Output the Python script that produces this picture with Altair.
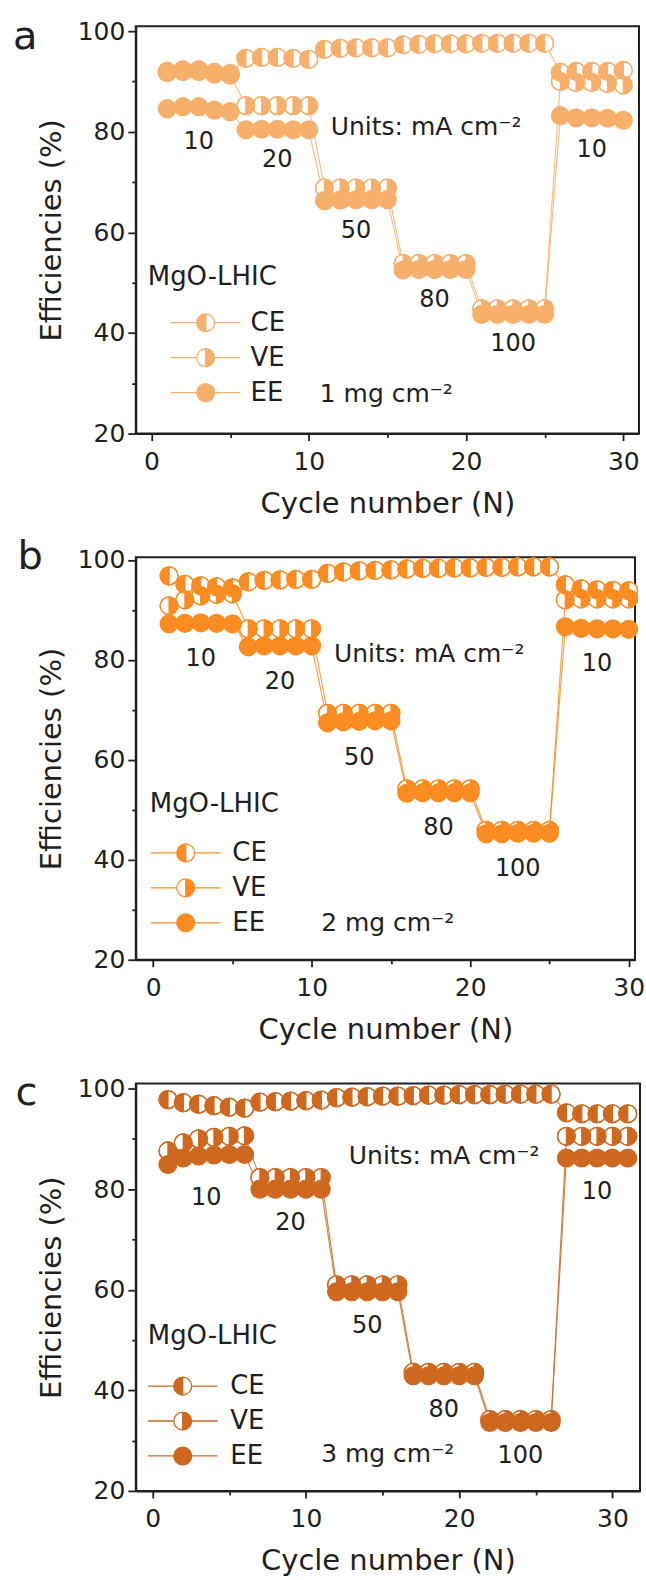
import altair as alt
import pandas as pd

FONT = "DejaVu Sans"
INK = "#231f20"

SERIES = ["CE", "VE", "EE"]
STEP_CURRENTS = [10, 20, 50, 80, 100, 10]  # mA cm-2, one entry per rate step

# (a) 1 mg cm-2
CYCLES_PER_STEP_A = [5, 5, 5, 5, 5, 5]
CE_A = [92.0, 92.3, 92.3, 91.8, 91.6, 94.6, 94.8, 94.8, 94.6, 94.4,
        96.4, 96.6, 96.7, 96.7, 96.7, 97.3, 97.4, 97.5, 97.5, 97.5,
        97.6, 97.6, 97.6, 97.6, 97.6, 91.8, 92.0, 92.0, 92.0, 92.2]
VE_A = [91.8, 92.0, 92.0, 91.5, 91.3, 85.2, 85.2, 85.2, 85.2, 85.2,
        68.8, 68.8, 68.8, 68.8, 68.8, 53.8, 53.8, 53.8, 53.8, 53.8,
        44.8, 44.8, 44.8, 44.8, 44.8, 90.0, 89.8, 89.8, 89.6, 89.3]
EE_A = [84.6, 85.0, 85.0, 84.3, 84.0, 80.4, 80.5, 80.5, 80.4, 80.4,
        66.3, 66.4, 66.5, 66.5, 66.5, 52.5, 52.6, 52.6, 52.6, 52.6,
        43.7, 43.7, 43.7, 43.7, 43.7, 83.2, 82.8, 82.8, 82.7, 82.3]

# (b) 2 mg cm-2
CYCLES_PER_STEP_B = [5, 5, 5, 5, 5, 5]
CE_B = [96.8, 95.1, 94.8, 94.6, 94.4, 95.6, 95.9, 96.0, 96.1, 96.1,
        97.3, 97.6, 97.8, 97.9, 98.0, 98.2, 98.3, 98.3, 98.4, 98.4,
        98.5, 98.5, 98.6, 98.6, 98.6, 95.0, 94.2, 94.0, 93.9, 93.8]
VE_B = [90.8, 92.0, 92.8, 93.1, 93.2, 86.2, 86.2, 86.2, 86.2, 86.2,
        69.3, 69.3, 69.3, 69.3, 69.3, 54.2, 54.2, 54.2, 54.2, 54.2,
        45.9, 45.9, 45.9, 45.9, 45.9, 92.0, 92.2, 92.2, 92.2, 92.2]
EE_B = [87.2, 87.3, 87.4, 87.3, 87.2, 82.6, 82.8, 82.8, 82.8, 82.8,
        67.4, 67.6, 67.7, 67.8, 67.8, 53.3, 53.4, 53.4, 53.4, 53.4,
        45.2, 45.2, 45.3, 45.3, 45.3, 86.6, 86.3, 86.2, 86.2, 86.1]

# (c) 3 mg cm-2
CYCLES_PER_STEP_C = [6, 5, 5, 5, 5, 5]
CE_C = [97.8, 97.2, 96.9, 96.6, 96.3, 96.1, 97.3, 97.4, 97.5, 97.6, 97.7,
        98.2, 98.3, 98.4, 98.5, 98.5, 98.6, 98.7, 98.7, 98.8, 98.8,
        98.8, 98.9, 98.9, 98.9, 98.9, 95.2, 95.0, 95.0, 95.0, 95.0]
VE_C = [87.6, 89.2, 90.0, 90.3, 90.5, 90.6, 82.3, 82.3, 82.3, 82.3, 82.3,
        61.0, 61.0, 61.0, 61.0, 61.0, 43.6, 43.6, 43.6, 43.6, 43.6,
        34.2, 34.2, 34.2, 34.2, 34.2, 90.5, 90.5, 90.5, 90.5, 90.5]
EE_C = [84.9, 86.2, 86.6, 86.8, 86.9, 86.9, 80.0, 80.0, 80.0, 80.0, 80.0,
        59.6, 59.6, 59.6, 59.6, 59.6, 42.9, 42.9, 42.9, 42.9, 42.9,
        33.6, 33.6, 33.6, 33.6, 33.6, 86.2, 86.2, 86.2, 86.2, 86.2]

COLOR_A = "#F7B06C"
COLOR_B = "#FA8C22"
COLOR_C = "#CF681F"

SIZE = 320  # marker area, px^2

# Unit-circle symbol paths; a reversed half-disc leaves that half unfilled
CIRCLE = "M0,-1A1,1,0,1,1,0,1A1,1,0,1,1,0,-1Z"
RIGHT_CUT = "M0,-1L0,1A1,1,0,0,0,0,-1Z"
LEFT_CUT = "M0,1L0,-1A1,1,0,0,0,0,1Z"
STUBS = "M-3.9,0L-1,0M1,0L3.9,0"
MARKER_PATHS = [CIRCLE + RIGHT_CUT, CIRCLE + LEFT_CUT, CIRCLE]
LEGEND_PATHS = [p + STUBS for p in MARKER_PATHS]


def build_frame(steps, ce, ve, ee):
    rows = []
    cycle = 1
    for k, (n, cur) in enumerate(zip(steps, STEP_CURRENTS)):
        for _ in range(n):
            for s, vals in zip(SERIES, (ce, ve, ee)):
                rows.append({"cycle": cycle, "value": vals[cycle - 1],
                             "series": s, "step": k, "current": str(cur)})
            cycle += 1
    return pd.DataFrame(rows)


def panel(df, color, xdom, ydom, width, height, lay):
    x = alt.X("cycle:Q",
              scale=alt.Scale(domain=xdom, nice=False, zero=False),
              axis=alt.Axis(title="Cycle number (N)", grid=False, labelFlush=False,
                            values=list(range(0, 31, 5)),
                            labelExpr="datum.value % 10 === 0 ? datum.label : ''",
                            tickSize={"condition": {"test": "datum.value % 10 === 0", "value": 7},
                                      "value": 4}))
    y = alt.Y("value:Q",
              scale=alt.Scale(domain=ydom, nice=False, zero=False),
              axis=alt.Axis(title="Efficiencies (%)", grid=False, labelFlush=False,
                            values=list(range(20, 101, 10)),
                            labelExpr="datum.value % 20 === 0 ? datum.label : ''",
                            tickSize={"condition": {"test": "datum.value % 20 === 0", "value": 8},
                                      "value": 4}))
    base = alt.Chart(df)

    lines = base.mark_line(color=color, strokeWidth=1.1, opacity=0.85).encode(
        x, y, detail="series:N", order="cycle:Q")

    under = base.transform_filter("datum.series !== 'EE'").mark_point(
        shape="circle", filled=True, fill="white", stroke=color,
        strokeWidth=1.3, size=SIZE, opacity=1).encode(x, y)

    marks = base.mark_point(
        filled=True, fill=color, stroke=color, strokeWidth=1.3, size=SIZE, opacity=1
    ).encode(x, y, shape=alt.Shape("series:N",
                                   scale=alt.Scale(domain=SERIES, range=MARKER_PATHS),
                                   legend=None))

    # invisible carrier for the legend (one mid-run step keeps its bounds inside the plot)
    key = base.transform_filter("datum.step === 2").transform_calculate(
        key="datum.series"
    ).mark_point(filled=True, fill=color, stroke=color, strokeWidth=1.3,
                 opacity=0, size=SIZE).encode(
        x, y, shape=alt.Shape(
            "key:N", scale=alt.Scale(domain=SERIES, range=LEGEND_PATHS),
            legend=alt.Legend(
                orient="none", legendX=lay["legend_x"], legendY=lay["legend_y"],
                direction="vertical", padding=0,
                title="MgO-LHIC", titleFont=FONT, titleFontSize=26, titleFontWeight="normal",
                titleColor=INK, titlePadding=lay["title_pad"],
                labelFont=FONT, labelFontSize=26, labelColor=INK,
                labelOffset=lay["label_off"], symbolOffset=lay["symbol_off"],
                symbolSize=SIZE, symbolStrokeWidth=1.3, symbolOpacity=1,
                rowPadding=9)))

    step_labels = base.transform_filter("datum.series === 'EE'").transform_aggregate(
        cycle="mean(cycle)", value="min(value)", groupby=["step", "current"]
    ).mark_text(font=FONT, fontSize=24, color=INK, baseline="middle",
                dy=lay["label_dy"]).encode(x, y, text="current:N")

    notes_df = pd.DataFrame({
        "cycle": [lay["units_at"][0], lay["load_at"][0]],
        "value": [lay["units_at"][1], lay["load_at"][1]],
        "note": ["Units: mA cm\u207b\u00b2", lay["load_text"]],
    })
    notes = alt.Chart(notes_df).mark_text(
        font=FONT, fontSize=25, color=INK, align="left", baseline="middle"
    ).encode(x, y, text="note:N")

    letter = alt.Chart(pd.DataFrame({"letter": [lay["letter"]]})).mark_text(
        font=FONT, fontSize=40, color=INK, align="left", baseline="alphabetic"
    ).encode(x=alt.value(lay["letter_x"]), y=alt.value(lay["letter_y"]), text="letter:N")

    return alt.layer(lines, under, marks, key, step_labels, notes, letter).resolve_scale(
        shape="independent").properties(width=width, height=height)


LAYOUT_A = dict(letter="a", letter_x=-123, letter_y=23,
                legend_x=12, legend_y=238, title_pad=20, symbol_off=45, label_off=32,
                units_at=(11.4, 81.0), load_at=(10.7, 27.8), load_text="1 mg cm\u207b\u00b2",
                label_dy=30)
LAYOUT_B = dict(letter="b", letter_x=-118.5, letter_y=12,
                legend_x=14, legend_y=234, title_pad=23, symbol_off=23, label_off=33.7,
                units_at=(11.4, 81.2), load_at=(10.6, 27.3), load_text="2 mg cm\u207b\u00b2",
                label_dy=35)
LAYOUT_C = dict(letter="c", letter_x=-120.5, letter_y=21,
                legend_x=12, legend_y=240, title_pad=24, symbol_off=22, label_off=34.6,
                units_at=(12.8, 86.5), load_at=(11.0, 27.4), load_text="3 mg cm\u207b\u00b2",
                label_dy=34)

panel_a = panel(build_frame(CYCLES_PER_STEP_A, CE_A, VE_A, EE_A), COLOR_A,
                [-1, 31], [20, 101], 504, 408, LAYOUT_A)
panel_b = panel(build_frame(CYCLES_PER_STEP_B, CE_B, VE_B, EE_B), COLOR_B,
                [-1.1, 30.4], [20, 100.5], 500, 403, LAYOUT_B)
panel_c = panel(build_frame(CYCLES_PER_STEP_C, CE_C, VE_C, EE_C), COLOR_C,
                [-1.1, 31.8], [20, 101], 505, 408, LAYOUT_C)

chart = alt.vconcat(panel_a, panel_b, panel_c, spacing=124, bounds="flush").properties(
    padding={"left": 12, "top": 15, "right": 0, "bottom": 0},
    autosize=alt.AutoSizeParams(type="pad"),
).configure_view(
    stroke=INK, strokeWidth=2
).configure_axis(
    domainColor=INK, domainWidth=2, tickColor=INK, tickWidth=1.8,
    labelFont=FONT, labelFontSize=25, labelColor=INK,
    titleFont=FONT, titleFontSize=29, titleFontWeight="normal", titleColor=INK,
).configure_axisX(
    labelPadding=9, titlePadding=15
).configure_axisY(
    labelPadding=3, titlePadding=11
)

chart.save("out.html", embed_options={"renderer": "svg", "actions": False})
